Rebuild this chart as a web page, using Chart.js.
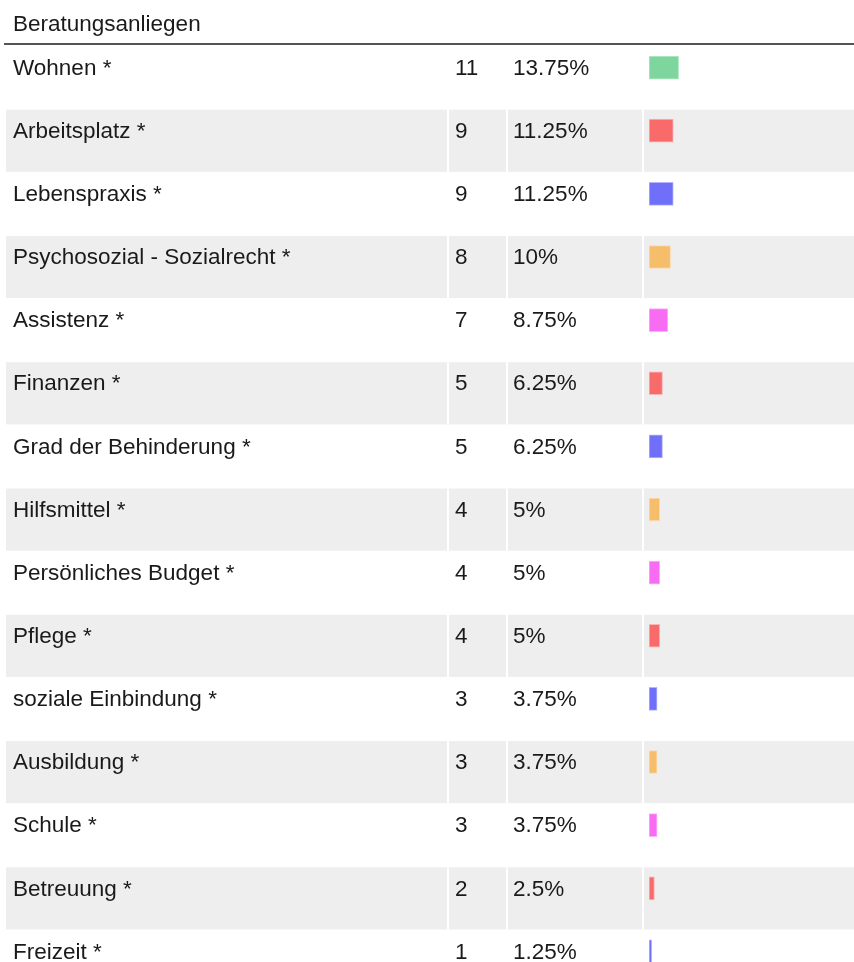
<!DOCTYPE html>
<html>
<head>
<meta charset="utf-8">
<script src="https://cdn.jsdelivr.net/npm/chart.js@4.4.0/dist/chart.umd.min.js"></script>
<style>
  html, body { margin: 0; padding: 0; background: #fff; overflow: hidden; }
  canvas { display: block; }
</style>
</head>
<body>
<canvas id="tableChart" width="854" height="1000"></canvas>
<script>
const title = "Beratungsanliegen";
const labels = [
  "Wohnen *", "Arbeitsplatz *", "Lebenspraxis *", "Psychosozial - Sozialrecht *",
  "Assistenz *", "Finanzen *", "Grad der Behinderung *", "Hilfsmittel *",
  "Persönliches Budget *", "Pflege *", "soziale Einbindung *", "Ausbildung *",
  "Schule *", "Betreuung *", "Freizeit *"
];
const counts = [11, 9, 9, 8, 7, 5, 5, 4, 4, 4, 3, 3, 3, 2, 1];
const percents = ["13.75%", "11.25%", "11.25%", "10%", "8.75%", "6.25%", "6.25%",
  "5%", "5%", "5%", "3.75%", "3.75%", "3.75%", "2.5%", "1.25%"];
const fills = ["#7ed69e", "#f96b6b", "#6f6ff9", "#f6be6b", "#f86cf3",
  "#f96b6b", "#6f6ff9", "#f6be6b", "#f86cf3", "#f96b6b",
  "#6f6ff9", "#f6be6b", "#f86cf3", "#f96b6b", "#6f6ff9"];
const borders = ["#b9ebcb", "#fcb4b4", "#b6b6fc", "#fadcb3", "#fbb4f8",
  "#fcb4b4", "#b6b6fc", "#fadcb3", "#fbb4f8", "#fcb4b4",
  "#b6b6fc", "#fadcb3", "#fbb4f8", "#fcb4b4", "#b6b6fc"];

const font = "22.5px 'Liberation Sans', Arial, sans-serif";

// rows, header and text columns drawn around the bars
const tablePlugin = {
  id: "tableRows",
  beforeDatasetsDraw(chart) {
    const { ctx } = chart;
    const y = chart.scales.y;
    const band = y.getPixelForValue(1) - y.getPixelForValue(0);

    ctx.save();
    ctx.font = font;
    ctx.fillStyle = "#1a1a1a";
    ctx.textBaseline = "middle";
    ctx.fillText(title, 13, 25);
    ctx.fillStyle = "#555";
    ctx.fillRect(4, 43, 850, 2);

    labels.forEach((label, i) => {
      const c = y.getPixelForValue(i);
      const top = c - 21;
      if (i % 2 === 1) {
        ctx.fillStyle = "#eeeeee";
        ctx.fillRect(6, top, 848, band - 1);
        ctx.fillStyle = "#ffffff";
        [447, 506, 642].forEach(x => ctx.fillRect(x, top, 2, band - 1));
      }
      ctx.fillStyle = "#1a1a1a";
      ctx.fillText(label, 13, c + 1);
      ctx.fillText(String(counts[i]), 455, c + 1);
      ctx.fillText(percents[i], 513, c + 1);
    });
    ctx.restore();
  }
};

new Chart(document.getElementById("tableChart"), {
  type: "bar",
  data: {
    labels: labels,
    datasets: [{
      data: counts,
      backgroundColor: fills,
      borderColor: borders,
      borderWidth: 1,
      borderSkipped: false,
      barThickness: 23
    }]
  },
  options: {
    indexAxis: "y",
    responsive: false,
    animation: false,
    layout: { padding: { left: 649, top: 36, right: 0, bottom: 17 } },
    scales: {
      x: { display: false, min: 0, max: 76 },
      y: { display: false }
    },
    plugins: {
      legend: { display: false },
      tooltip: { enabled: false }
    }
  },
  plugins: [tablePlugin]
});
</script>
</body>
</html>
